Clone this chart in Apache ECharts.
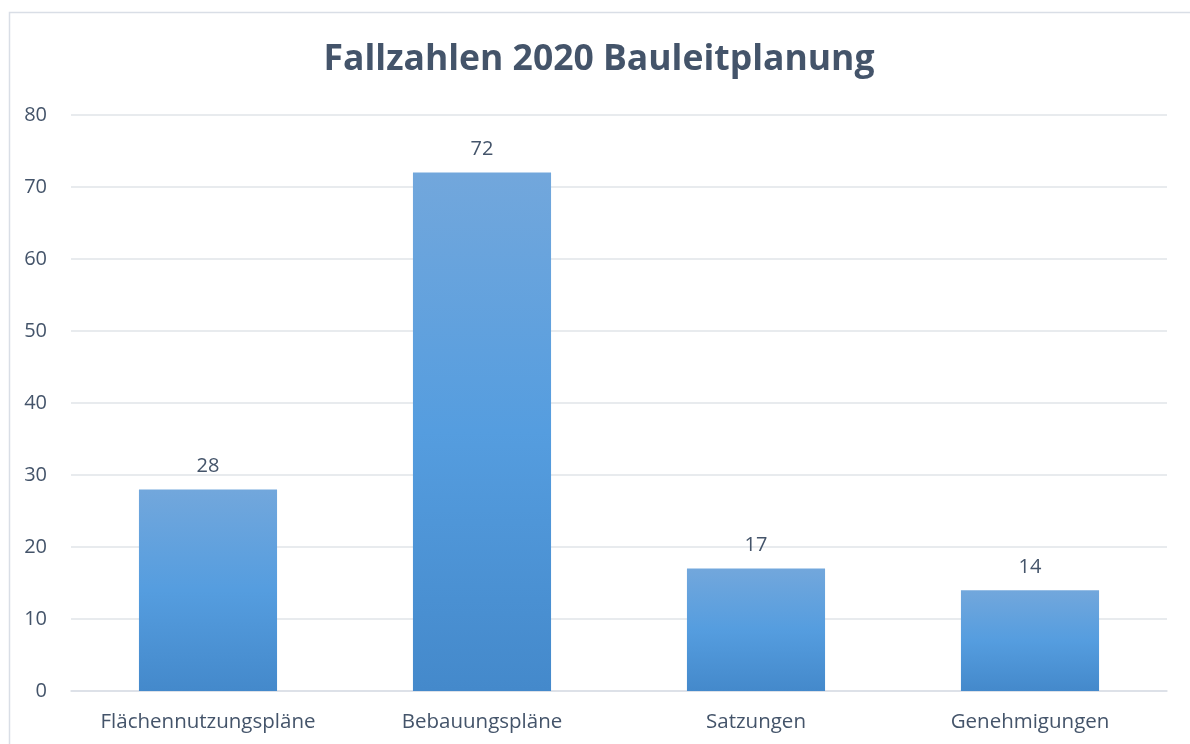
<!DOCTYPE html>
<html>
<head>
<meta charset="utf-8">
<script src="https://cdn.jsdelivr.net/npm/echarts@6/dist/echarts.min.js"></script>
<style>
  html, body { margin: 0; padding: 0; background: #fff; }
  #container { width: 1190px; height: 744px; }
</style>
</head>
<body>
<div id="container"></div>
<script>
var categories = ['Flächennutzungspläne', 'Bebauungspläne', 'Satzungen', 'Genehmigungen'];
var values = [28, 72, 17, 14];
var yTicks = [0, 10, 20, 30, 40, 50, 60, 70, 80];

var dom = document.getElementById('container');
var myChart = echarts.init(dom, null, { renderer: 'canvas' });
var textColor = '#44546A';
var fontFamily = '"Open Sans", "Noto Sans", sans-serif';

var option = {
  backgroundColor: '#fff',
  textStyle: { fontFamily: fontFamily },
  graphic: [
    {
      type: 'rect',
      left: 7,
      top: 10,
      shape: { width: 1300, height: 900 },
      style: { fill: 'none', stroke: '#D9DEE6', lineWidth: 1.5 },
      silent: true
    }
  ],
  title: {
    text: 'Fallzahlen 2020 Bauleitplanung',
    left: 594,
    textAlign: 'center',
    top: 37,
    textStyle: {
      fontSize: 35.5,
      fontWeight: 'bold',
      color: textColor,
      fontFamily: fontFamily
    }
  },
  grid: { left: 71, right: 23, top: 115, bottom: 53 },
  xAxis: {
    type: 'category',
    data: categories,
    axisTick: { show: false },
    axisLine: { lineStyle: { color: '#D9DEE6', width: 1.5 } },
    axisLabel: { interval: 0, color: textColor, fontSize: 20.5, margin: 21, fontFamily: fontFamily }
  },
  yAxis: {
    type: 'value',
    min: yTicks[0],
    max: yTicks[yTicks.length - 1],
    interval: 10,
    axisLine: { show: false },
    axisTick: { show: false },
    axisLabel: { color: textColor, fontSize: 20, margin: 24, fontFamily: fontFamily },
    splitLine: { lineStyle: { color: '#E1E4E9', width: 1.5 } }
  },
  series: [
    {
      type: 'bar',
      data: values,
      barWidth: '50.4%',
      itemStyle: {
        color: new echarts.graphic.LinearGradient(0, 0, 0, 1, [
          { offset: 0, color: '#72A7DC' },
          { offset: 0.5, color: '#559DDF' },
          { offset: 1, color: '#4489CB' }
        ])
      },
      label: {
        show: true,
        position: 'top',
        distance: 13,
        color: textColor,
        fontSize: 20,
        fontFamily: fontFamily
      }
    }
  ]
};

myChart.setOption(option);
window.addEventListener('resize', myChart.resize);
</script>
</body>
</html>
